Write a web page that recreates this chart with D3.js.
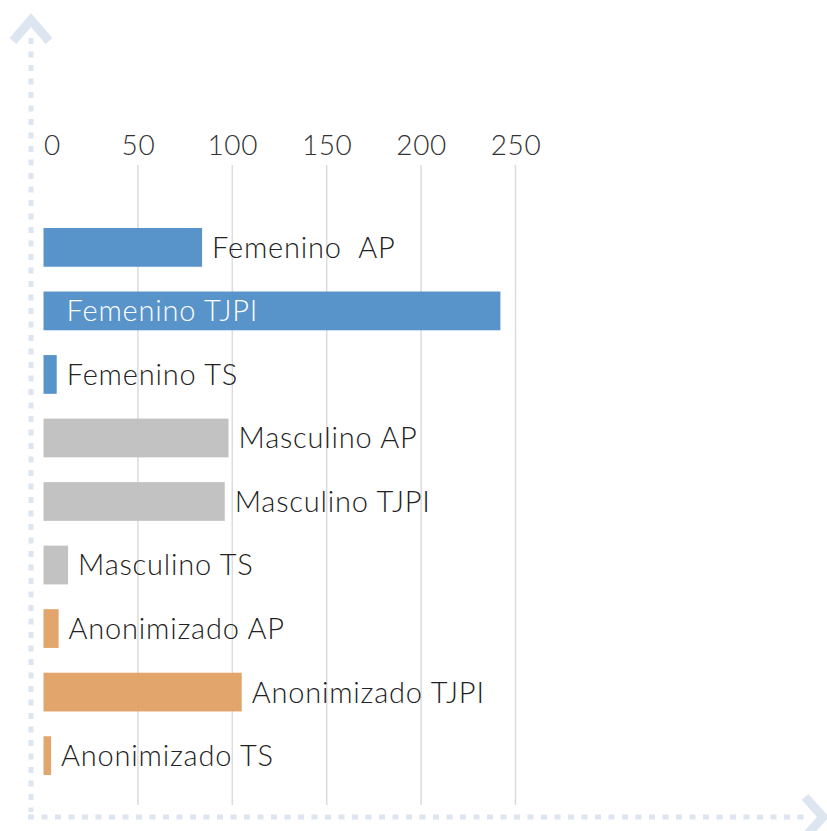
<!DOCTYPE html>
<html><head><meta charset="utf-8">
<script src="https://cdn.jsdelivr.net/npm/d3@7"></script>
<style>
html,body{margin:0;padding:0;background:#fff;}
svg{display:block;}
text{font-family:Lato,"Open Sans",sans-serif;font-weight:300;}
</style></head>
<body>
<svg id="chart" width="827" height="831"></svg>
<script>
const categories = ["Femenino  AP","Femenino TJPI","Femenino TS","Masculino AP","Masculino TJPI","Masculino TS","Anonimizado AP","Anonimizado TJPI","Anonimizado TS"];
const groups = ["Femenino","Femenino","Femenino","Masculino","Masculino","Masculino","Anonimizado","Anonimizado","Anonimizado"];
const values = [84, 242, 7, 98, 96, 13, 8, 105, 4];
const tickValues = [0, 50, 100, 150, 200, 250];
const insideLabels = ["Femenino TJPI"];

const color = d3.scaleOrdinal().domain(["Femenino","Masculino","Anonimizado"]).range(["#4f8dc6","#bfbfbf","#e0a064"]);

const svg = d3.select("#chart");
const x = d3.scaleLinear().domain([0,250]).range([43.5,515.5]);
const y = d3.scaleBand().domain(categories).range([228,775]).paddingInner(0.39).paddingOuter(0);

// decorative dotted axes
const deco = "#dde6f0";
svg.append("line").attr("x1",31).attr("x2",31).attr("y1",38).attr("y2",812)
  .attr("stroke",deco).attr("stroke-width",5).attr("stroke-dasharray","6,7.5");
svg.append("line").attr("x1",28).attr("x2",808).attr("y1",817).attr("y2",817)
  .attr("stroke",deco).attr("stroke-width",5).attr("stroke-dasharray","6,7.5");
svg.append("polyline").attr("points","13,41 31,20 49,41").attr("fill","none")
  .attr("stroke",deco).attr("stroke-width",9).attr("stroke-linejoin","miter");
svg.append("polyline").attr("points","805,797 823,817 805,837").attr("fill","none")
  .attr("stroke",deco).attr("stroke-width",9).attr("stroke-linejoin","miter");

// gridlines
svg.append("g").selectAll("line").data(tickValues.filter(d=>d>0)).join("line")
  .attr("x1",d=>x(d)).attr("x2",d=>x(d)).attr("y1",165).attr("y2",805)
  .attr("stroke","#dcdcdc").attr("stroke-width",1.5);

// axis
const axis = d3.axisTop(x).tickValues(tickValues).tickSize(0).tickPadding(0);
const ag = svg.append("g").attr("transform","translate(0,155)").call(axis);
ag.select(".domain").remove();
ag.selectAll("text").attr("font-size",28).attr("fill","#333").attr("dy",0)
  .style("font-family","Lato, 'Open Sans', sans-serif").style("font-weight",300)
  .style("letter-spacing","0.6px")
  .attr("text-anchor",d=>d===0?"start":"middle").attr("dx",d=>d===0?0:0);

// bars
svg.append("g").selectAll("rect").data(categories).join("rect")
  .attr("x",x(0)).attr("y",d=>y(d))
  .attr("width",(d,i)=>x(values[i])-x(0)).attr("height",y.bandwidth())
  .attr("fill",(d,i)=>color(groups[i])).attr("fill-opacity",0.95);

// labels
svg.append("g").selectAll("text").data(categories).join("text")
  .attr("x",(d,i)=>insideLabels.includes(d)? x(0)+23 : x(values[i])+10)
  .attr("y",d=>y(d)+y.bandwidth()/2)
  .attr("dy","0.36em")
  .attr("font-size",29)
  .attr("fill",d=>insideLabels.includes(d)?"#fff":"#222")
  .style("letter-spacing","0.8px")
  .style("white-space","pre")
  .text(d=>d);
</script>
</body></html>
